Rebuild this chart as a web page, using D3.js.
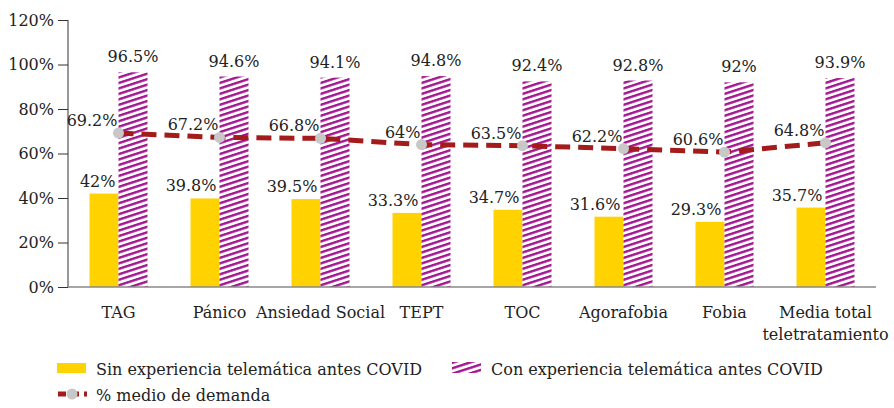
<!DOCTYPE html>
<html>
<head>
<meta charset="utf-8">
<script src="https://cdn.jsdelivr.net/npm/d3@7"></script>
<style>
  body { margin: 0; background: #fff; }
  svg { display: block; font-family: "DejaVu Serif", serif; }
</style>
</head>
<body>
<svg id="chart" width="894" height="408"></svg>
<script>
// data
var categories = ["TAG", "Pánico", "Ansiedad Social", "TEPT", "TOC", "Agorafobia", "Fobia", "Media total\nteletratamiento"];
var sinExperiencia = [42, 39.8, 39.5, 33.3, 34.7, 31.6, 29.3, 35.7];
var conExperiencia = [96.5, 94.6, 94.1, 94.8, 92.4, 92.8, 92, 93.9];
var demandaMedia = [69.2, 67.2, 66.8, 64, 63.5, 62.2, 60.6, 64.8];
var yTicks = [0, 20, 40, 60, 80, 100, 120];
var seriesNames = ["Sin experiencia telemática antes COVID", "Con experiencia telemática antes COVID", "% medio de demanda"];

var yellow = "#ffd200", purple = "#a4168f", lineRed = "#a31b1b", dotGray = "#c8c8c8";

var svg = d3.select("#chart");
var plotLeft = 68, plotRight = 876, plotTop = 20, plotBottom = 287;

var x = d3.scaleBand().domain(categories).range([plotLeft, plotRight]);
var y = d3.scaleLinear().domain([0, 120]).range([plotBottom, plotTop]);
var barW = 29;

// hatch pattern: thin purple stripes rising to the right
var defs = svg.append("defs");
var pat = defs.append("pattern")
  .attr("id", "hatch")
  .attr("patternUnits", "userSpaceOnUse")
  .attr("width", 20).attr("height", 5.2)
  .attr("patternTransform", "rotate(-18)");
pat.append("rect").attr("width", 20).attr("height", 5.2).attr("fill", "#fff");
pat.append("rect").attr("y", 0).attr("width", 20).attr("height", 2.4).attr("fill", purple);

// y axis
var yAxis = svg.append("g")
  .attr("transform", "translate(" + plotLeft + ",0)")
  .call(d3.axisLeft(y).tickValues(yTicks).tickSize(10).tickFormat(function(d) { return d + "%"; }));
yAxis.select(".domain").attr("stroke", "#333").attr("d", "M0," + y(120) + "V" + plotBottom);
yAxis.selectAll(".tick line").attr("stroke", "#333");
yAxis.selectAll(".tick text").attr("font-size", 16).attr("fill", "#222")
  .attr("font-family", "DejaVu Serif").attr("x", -14);

// bars
var cx = function(d, i) { return x(categories[i]) + x.bandwidth() / 2; };

svg.append("g").selectAll("rect").data(sinExperiencia).join("rect")
  .attr("x", function(d, i) { return cx(d, i) - barW; })
  .attr("y", function(d) { return y(d); })
  .attr("width", barW)
  .attr("height", function(d) { return plotBottom - y(d); })
  .attr("fill", yellow);

svg.append("g").selectAll("rect").data(conExperiencia).join("rect")
  .attr("x", function(d, i) { return cx(d, i); })
  .attr("y", function(d) { return y(d); })
  .attr("width", barW)
  .attr("height", function(d) { return plotBottom - y(d); })
  .attr("fill", "url(#hatch)");

// x axis line
svg.append("line")
  .attr("x1", plotLeft).attr("x2", plotRight)
  .attr("y1", plotBottom).attr("y2", plotBottom)
  .attr("stroke", "#888").attr("stroke-width", 1.5);

// bar labels
var fmt = function(d) { return d + "%"; };
svg.append("g").selectAll("text").data(sinExperiencia).join("text")
  .attr("x", function(d, i) { return cx(d, i) - 3; })
  .attr("y", function(d) { return y(d) - 7; })
  .attr("text-anchor", "end").attr("font-size", 16).attr("fill", "#222")
  .text(fmt);

svg.append("g").selectAll("text").data(conExperiencia).join("text")
  .attr("x", function(d, i) { return cx(d, i) + barW / 2; })
  .attr("y", function(d) { return y(d) - 10; })
  .attr("text-anchor", "middle").attr("font-size", 16).attr("fill", "#222")
  .text(fmt);

// demand line
var line = d3.line()
  .x(function(d, i) { return cx(d, i); })
  .y(function(d) { return y(d); });

svg.append("path")
  .datum(demandaMedia)
  .attr("d", line)
  .attr("fill", "none")
  .attr("stroke", lineRed)
  .attr("stroke-width", 5)
  .attr("stroke-dasharray", "15,8");

svg.append("g").selectAll("circle").data(demandaMedia).join("circle")
  .attr("cx", function(d, i) { return cx(d, i); })
  .attr("cy", function(d) { return y(d); })
  .attr("r", 5.5)
  .attr("fill", dotGray);

svg.append("g").selectAll("text").data(demandaMedia).join("text")
  .attr("x", function(d, i) { return cx(d, i) - 1; })
  .attr("y", function(d) { return y(d) - 7; })
  .attr("text-anchor", "end").attr("font-size", 16).attr("fill", "#222")
  .text(fmt);

// category labels
var xl = svg.append("g").selectAll("text").data(categories).join("text")
  .attr("x", function(d) { return x(d) + x.bandwidth() / 2; })
  .attr("y", 318)
  .attr("text-anchor", "middle").attr("font-size", 16).attr("fill", "#222");
xl.each(function(d) {
  var parts = d.split("\n");
  var t = d3.select(this);
  parts.forEach(function(p, k) {
    t.append("tspan").attr("x", t.attr("x")).attr("dy", k ? 22 : 0).text(p);
  });
});

// legend
var lg = svg.append("g").attr("font-size", 16).attr("fill", "#222");
lg.append("rect").attr("x", 57).attr("y", 363).attr("width", 29).attr("height", 10).attr("fill", yellow);
lg.append("text").attr("x", 96).attr("y", 375).text(seriesNames[0]);
lg.append("rect").attr("x", 452).attr("y", 362).attr("width", 29).attr("height", 11).attr("fill", "url(#hatch)");
lg.append("text").attr("x", 491).attr("y", 375).text(seriesNames[1]);
lg.append("line").attr("x1", 58).attr("x2", 87).attr("y1", 394).attr("y2", 394)
  .attr("stroke", lineRed).attr("stroke-width", 5).attr("stroke-dasharray", "8,5");
lg.append("circle").attr("cx", 72).attr("cy", 394).attr("r", 5.5).attr("fill", dotGray);
lg.append("text").attr("x", 96).attr("y", 401).text(seriesNames[2]);
</script>
</body>
</html>
